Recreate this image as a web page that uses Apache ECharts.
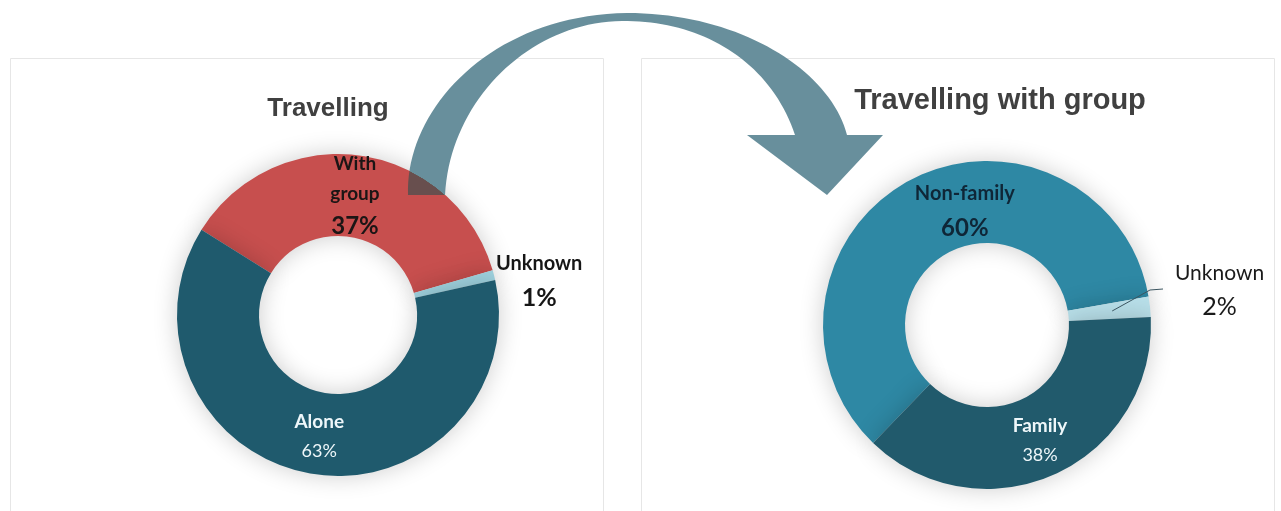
<!DOCTYPE html>
<html>
<head>
<meta charset="utf-8">
<script src="https://cdn.jsdelivr.net/npm/echarts@6/dist/echarts.min.js"></script>
<style>
  html, body { margin: 0; padding: 0; background: #ffffff; }
  #chart { width: 1281px; height: 511px; }
</style>
</head>
<body>
<div id="chart"></div>
<script>
// Travel mode breakdown
const travelTitle = 'Travelling';
const travelCats = ['With group', 'Unknown', 'Alone'];
const travelVals = [37, 1, 63];

// Breakdown of group travellers
const groupTitle = 'Travelling with group';
const groupCats = ['Non-family', 'Unknown', 'Family'];
const groupVals = [60, 2, 38];

const chart = echarts.init(document.getElementById('chart'), null, { renderer: 'canvas' });

const LABEL_FONT = 'Lato, "Noto Sans", sans-serif';
const TITLE_FONT = '"Liberation Sans", Arial, sans-serif';

function labelText(p) {
  return '{n|' + p.name.replace(' ', '\n') + '}\n{v|' + p.value + '%}';
}

function richStyle(color, nameSize, valSize, valWeight, lh, lh2) {
  return {
    n: { color: color, fontFamily: LABEL_FONT, fontWeight: 'bold', fontSize: nameSize, lineHeight: lh, align: 'center' },
    v: { color: color, fontFamily: LABEL_FONT, fontWeight: valWeight, fontSize: valSize, lineHeight: lh2, align: 'center' }
  };
}

// ring geometry
const travelCenter = [338, 315], travelRadius = [79, 161], travelStart = 148;
const groupCenter = [987, 325], groupRadius = [82, 164], groupStart = 226;

// per-slice look for the left ring
const travelColors = ['#c74f4e', '#9fd2df', '#1f5a6d'];
const travelLabels = [
  { position: 'inside', rich: richStyle('#1b1515', 19, 24, 'bold', 30, 34) },
  { position: 'inside', rich: richStyle('#161616', 20, 25, 'bold', 33, 36) },
  { position: 'inside', rich: richStyle('#eef7fa', 19, 18, 'normal', 28, 30) }
];
const travelShift = [[0, 3], [82, -3], [2, 1]];

// per-slice look for the right ring
const groupColors = ['#2e88a4', '#b8dfe9', '#215a6c'];
const groupLabels = [
  { position: 'inside', rich: richStyle('#0f2637', 20, 24, 'bold', 33, 36) },
  { position: 'outside', rich: {
      n: { color: '#1a1a1a', fontFamily: LABEL_FONT, fontWeight: 'normal', fontSize: 21, lineHeight: 34, align: 'center' },
      v: { color: '#1a1a1a', fontFamily: LABEL_FONT, fontWeight: 'normal', fontSize: 25, lineHeight: 34, align: 'center' } } },
  { position: 'inside', rich: richStyle('#eef7fa', 19, 18, 'normal', 28, 30) }
];
const groupShift = [[37, -2], [0, -16], [1, 1]];

function buildData(cats, vals, colors, labels) {
  return cats.map((c, i) => ({
    name: c,
    value: vals[i],
    itemStyle: { color: colors[i] },
    label: Object.assign({ show: true, formatter: labelText }, labels[i])
  }));
}

// mid angle (degrees, counter-clockwise from +x) of slice i in a clockwise ring
function midAngle(vals, start, i) {
  const total = vals.reduce((a, b) => a + b, 0);
  const before = vals.slice(0, i).reduce((a, b) => a + b, 0);
  return start - (before + vals[i] / 2) / total * 360;
}

// leader for the thin "Unknown" slice of the right ring: from mid-ring, out past the rim, then level
const leaderAngle = midAngle(groupVals, groupStart, 1) * Math.PI / 180;
const leaderR = (groupRadius[0] + groupRadius[1]) / 2 + 3;
const leaderPts = [
  [groupCenter[0] + leaderR * Math.cos(leaderAngle), groupCenter[1] - leaderR * Math.sin(leaderAngle)],
  [groupCenter[0] + groupRadius[1] - 1, groupCenter[1] - 35],
  [groupCenter[0] + groupRadius[1] + 12, groupCenter[1] - 36]
];

// outline of the curved connector arrow, traced from cubic segments
function cubic(p0, p1, p2, p3, steps) {
  const pts = [];
  for (let k = 1; k <= steps; k++) {
    const t = k / steps, u = 1 - t;
    pts.push([
      u * u * u * p0[0] + 3 * u * u * t * p1[0] + 3 * u * t * t * p2[0] + t * t * t * p3[0],
      u * u * u * p0[1] + 3 * u * u * t * p1[1] + 3 * u * t * t * p2[1] + t * t * t * p3[1]
    ]);
  }
  return pts;
}
const arrowPts = [[408, 195]]
  .concat(cubic([408, 195], [405, 110], [490, 15], [627, 13], 40))
  .concat(cubic([627, 13], [740, 13], [830, 70], [847, 135], 40))
  .concat([[883, 135], [827, 195], [747, 135], [795, 135]])
  .concat(cubic([795, 135], [770, 60], [700, 20], [622, 21], 40))
  .concat(cubic([622, 21], [530, 22], [450, 100], [445, 195], 40));

const shadow = { shadowBlur: 24, shadowColor: 'rgba(0,0,0,0.2)' };

chart.setOption({
  backgroundColor: '#ffffff',
  animation: false,
  title: [
    { text: travelTitle, left: 323, top: 91, textAlign: 'center',
      textStyle: { fontFamily: TITLE_FONT, fontWeight: 'bold', fontSize: 26, color: '#404040' } },
    { text: groupTitle, left: 995, top: 81, textAlign: 'center',
      textStyle: { fontFamily: TITLE_FONT, fontWeight: 'bold', fontSize: 29, color: '#404040' } }
  ],
  graphic: [
    // card outlines
    { type: 'rect', z: -10, shape: { x: 10.5, y: 58.5, width: 593, height: 470 },
      style: { fill: '#ffffff', stroke: '#e6e6e6', lineWidth: 1 }, silent: true },
    { type: 'rect', z: -10, shape: { x: 641.5, y: 58.5, width: 633, height: 470 },
      style: { fill: '#ffffff', stroke: '#e6e6e6', lineWidth: 1 }, silent: true },
    // curved arrow linking the two rings
    { type: 'polygon', z: 100, silent: true,
      shape: { points: arrowPts },
      style: { fill: '#688f9c', blend: 'darken' } },
    { type: 'polyline', z: 100, silent: true,
      shape: { points: leaderPts },
      style: { stroke: '#3b5560', lineWidth: 1, fill: null } }
  ],
  series: [
    {
      type: 'pie', name: travelTitle,
      center: travelCenter, radius: travelRadius,
      startAngle: travelStart, clockwise: true,
      avoidLabelOverlap: false,
      itemStyle: Object.assign({ borderWidth: 0 }, shadow),
      labelLine: { show: false },
      labelLayout: p => ({ dx: travelShift[p.dataIndex][0], dy: travelShift[p.dataIndex][1] }),
      data: buildData(travelCats, travelVals, travelColors, travelLabels)
    },
    {
      type: 'pie', name: groupTitle,
      center: groupCenter, radius: groupRadius,
      startAngle: groupStart, clockwise: true,
      avoidLabelOverlap: false,
      itemStyle: Object.assign({ borderWidth: 0 }, shadow),
      labelLine: { show: false, length: 6, length2: 14 },
      labelLayout: p => ({ dx: groupShift[p.dataIndex][0], dy: groupShift[p.dataIndex][1] }),
      data: buildData(groupCats, groupVals, groupColors, groupLabels)
    }
  ]
});
</script>
</body>
</html>
